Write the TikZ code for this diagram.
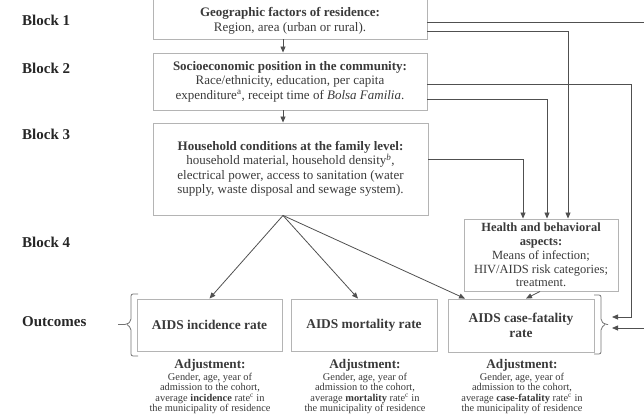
\documentclass[tikz,border=0pt]{standalone}
\usepackage{fontspec}
\setmainfont{Liberation Serif}
\usetikzlibrary{arrows.meta,calc}
\definecolor{boxgray}{HTML}{B4B4B4}
\definecolor{linegray}{HTML}{505050}
\definecolor{txt}{HTML}{3A3A3A}
\begin{document}
\begin{tikzpicture}[x=1pt,y=-1pt,
  box/.style={draw=boxgray, line width=0.9pt, inner sep=0pt, align=center, text=txt},
  btext/.style={font=\fontsize{13}{14.4}\selectfont, align=center, text=txt, inner sep=0pt},
  htext/.style={font=\fontsize{12.5}{13.8}\selectfont, align=center, text=txt, inner sep=0pt},
  otext/.style={font=\fontsize{13.4}{15}\selectfont\bfseries, align=center, text=txt, inner sep=0pt},
  lbl/.style={font=\fontsize{15}{18}\selectfont\bfseries, anchor=west, text=black!85, inner sep=0pt},
  adjh/.style={font=\fontsize{13.2}{15}\selectfont\bfseries, text=txt, inner sep=0pt},
  adjb/.style={font=\fontsize{10.4}{10.6}\selectfont, align=center, text=txt, inner sep=0pt},
  conn/.style={draw=linegray, line width=0.8pt},
  arr/.style={conn, -{Triangle[length=6pt,width=5pt]}},
  brk/.style={draw=linegray!80, line width=0.8pt}
]
\useasboundingbox (0,0) rectangle (644,417);
\clip (0,0) rectangle (644,417);

% left labels
\node[lbl] (l1) at (22,20) {Block 1};
\node[lbl] (l2) at (22,68) {Block 2};
\node[lbl] (l3) at (22,134) {Block 3};
\node[lbl] (l4) at (22,242) {Block 4};
\node[lbl] (l5) at (22,322) {Outcomes};

% block boxes
\node[box, minimum width=274pt, minimum height=45pt] (b1) at (290,16.5) {};
\node[btext] (b1t) at (290,20.5) {\textbf{Geographic factors of residence:}\\[0.6pt] Region, area (urban or rural).};
\node[box, btext, draw=boxgray, line width=0.9pt, minimum width=274pt, minimum height=57pt] (b2) at (290,81.5)
  {\textbf{Socioeconomic position in the community:}\\ Race/ethnicity, education, per capita\\ expenditure\textsuperscript{a}, receipt time of \textit{Bolsa Familia}.};
\node[box, btext, draw=boxgray, line width=0.9pt, minimum width=275pt, minimum height=92pt] (b3) at (290.5,169)
  {\textbf{Household conditions at the family level:}\\ household material, household density\textsuperscript{\textit{b}},\\ electrical power, access to sanitation (water\\ supply, waste disposal and sewage system).};
\node[box, htext, draw=boxgray, line width=0.9pt, minimum width=154pt, minimum height=72pt] (hb) at (541,255)
  {\textbf{Health and behavioral}\\ \textbf{aspects:}\\ Means of infection;\\ HIV/AIDS risk categories;\\ treatment.};

% outcome boxes
\node[box, otext, draw=boxgray, line width=0.9pt, minimum width=145pt, minimum height=52pt] (inc) at (209.5,325) {AIDS incidence rate};
\node[box, otext, draw=boxgray, line width=0.9pt, minimum width=146pt, minimum height=52pt] (mor) at (364,325) {AIDS mortality rate};
\node[box, otext, draw=boxgray, line width=0.9pt, minimum width=146pt, minimum height=53pt] (cf) at (521,325.5) {AIDS case-fatality\\ rate};

% brackets
\coordinate (lbA) at (138,294);
\coordinate (lbB) at (138,356);
\coordinate (lbT) at (118,324.5);
\draw[brk, rounded corners=2pt] (lbA) -| (131,321) -- (127,324.5) -- (lbT);
\draw[brk, rounded corners=2pt] (127,324.5) -- (131,328) |- (lbB);
\coordinate (rbA) at (594,295);
\coordinate (rbB) at (594,354);
\coordinate (rbT) at (608,324.5);
\draw[brk, rounded corners=2pt] (rbA) -| (601,321) -- (605,324.5) -- (rbT);
\draw[brk, rounded corners=2pt] (605,324.5) -- (601,328) |- (rbB);

% adjustments
\node[adjh] (a1h) at (210,365) {Adjustment:};
\node[adjb] (a1b) at (210,393.5) {Gender, age, year of\\ admission to the cohort,\\ average \textbf{incidence} rate\textsuperscript{c} in\\ the municipality of residence};
\node[adjh] (a2h) at (365,365) {Adjustment:};
\node[adjb] (a2b) at (365,393.5) {Gender, age, year of\\ admission to the cohort,\\ average \textbf{mortality} rate\textsuperscript{c} in\\ the municipality of residence};
\node[adjh] (a3h) at (522,365) {Adjustment:};
\node[adjb] (a3b) at (522,393.5) {Gender, age, year of\\ admission to the cohort,\\ average \textbf{case-fatality} rate\textsuperscript{c} in\\ the municipality of residence};

% vertical arrows between blocks
\draw[arr] ([xshift=-7pt]b1.south) -- ([xshift=-7pt]b2.north);
\draw[arr] ([xshift=-7pt]b2.south) -- ([xshift=-7.5pt]b3.north);

% connectors to the right
\coordinate (offR1) at (660,22);
\coordinate (offR2) at (660,328);
\coordinate (cfA) at (612,317);
\coordinate (cfB) at (612,328);
\draw[conn] (b1.east |- 0,22) -- (offR1);
\draw[arr] (offR2) -- (cfB);
\draw[arr] (b1.east |- 0,31) -| (hb.north -| 568,0);
\draw[arr] (b2.east |- 0,84) -| (631,317) -- (cfA);
\draw[arr] (b2.east |- 0,99) -| (hb.north -| 547,0);
\draw[arr] (b3.east |- 0,159) -| (hb.north -| 523,0);

% from block 3 to outcomes
\coordinate (b3s) at ([xshift=-7.5pt]b3.south);
\draw[arr] (b3s) -- (inc.north);
\draw[arr] (b3s) -- ([xshift=-6pt]mor.north);
\draw[arr] (b3s) -- ([xshift=-56pt]cf.north);
\draw[arr] ([xshift=-1pt]hb.south) -- ([xshift=5pt]cf.north);
\end{tikzpicture}
\end{document}
